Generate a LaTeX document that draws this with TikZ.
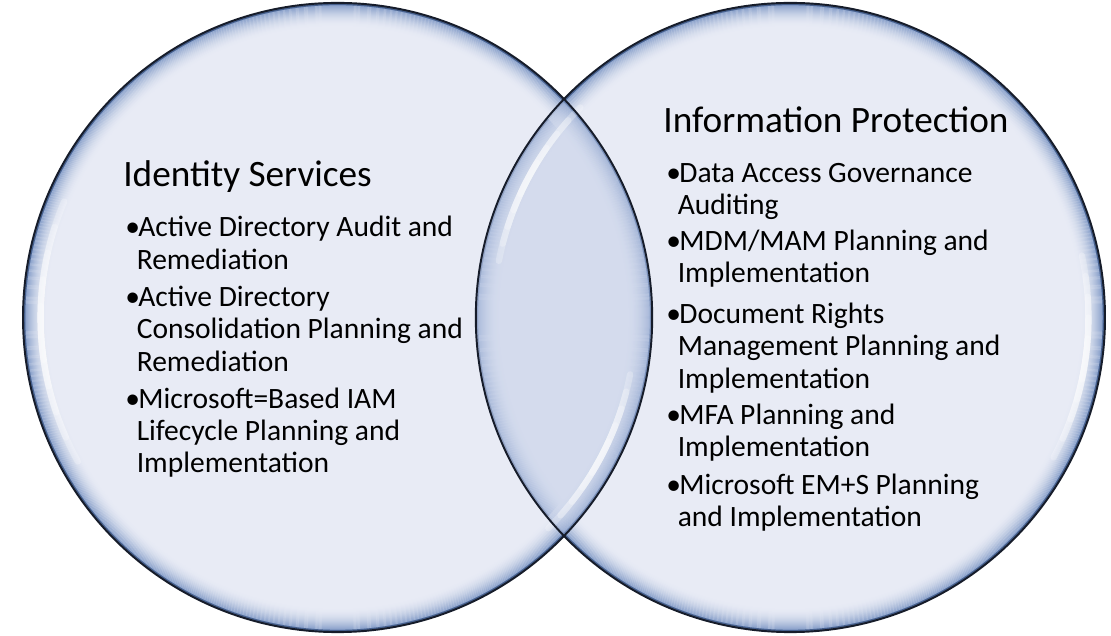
\documentclass[tikz,border=0pt]{standalone}
\usepackage{fontspec}
\setmainfont{Carlito}
\usetikzlibrary{calc}

\definecolor{bubpale}{RGB}{232,235,245}
\definecolor{bubrim}{RGB}{118,146,194}
\definecolor{bubdeep}{RGB}{70,96,142}
\definecolor{lenstint}{RGB}{110,140,200}
\definecolor{bubline}{RGB}{22,28,42}

\tikzset{
	headtxt/.style={anchor=base west, inner sep=0pt, font=\fontsize{21.2}{25}\selectfont},
	itemtxt/.style={anchor=base west, inner sep=0pt, align=left, font=\fontsize{16.8}{18.4}\selectfont},
	glintline/.style={white, line width=3.6pt, opacity=0.26, line cap=round}
}
\newcommand\bul{\makebox[7.4pt][l]{•}}
\newcommand\wrapind{\hspace*{6.5pt}}
% pale disc with a blue rim fading inwards: [options]{centre}
\newcommand\bubble[2][]{\fill[bubpale,#1] (#2) circle (\rr);
	\foreach \i in {0,...,24}{\pgfmathsetmacro\p{100*(1-\i/24)^2}\draw[bubrim!\p!bubpale, line width=0.62pt, #1] (#2) circle (\rr-\i-0.5);}
	\draw[bubdeep, line width=1.2pt, #1] (#2) circle (\rr-1.2);}
% white shine along a rim: centre, mid angle, half span, radius
\newcommand\glint[4]{\foreach \k in {1,...,5}{\draw[glintline] ($(#1)+({#4*cos(#2-#3*\k/5)},{#4*sin(#2-#3*\k/5)})$) arc (#2-#3*\k/5:#2+#3*\k/5:#4);}}

\begin{document}
\begin{tikzpicture}[x=0.02cm,y=0.02cm]
		%%%%% BUBBLES %%%%%
		\useasboundingbox[fill=white] (0,0) rectangle (1111,635);
		\coordinate (cL) at (337.6,317.5);
		\coordinate (cR) at (790.4,317.5);
		\def\rr{314.6}
		
		\bubble{cL}
		\bubble{cR}
		
		\begin{scope}
			\clip (cR) circle (\rr);
			\bubble[opacity=0.5]{cL}
			\fill[lenstint, opacity=0.16] (cL) circle (\rr);
		\end{scope}
		
		\glint{cL}{183}{26}{297}
		\glint{cL}{-28}{17}{298}
		\glint{cR}{152}{17}{297}
		\glint{cR}{-8}{20}{298}
		
		\draw[bubline, line width=1.1pt] (cL) circle (\rr);
		\draw[bubline, line width=1.1pt] (cR) circle (\rr);
		
		%%%%% LEFT TEXT %%%%%
		% base of a node = baseline of its last line
		\node[headtxt] (idhead) at (123,448) {Identity Services};
		\node[itemtxt] (id1) at (125,365.7) {\bul Active Directory Audit and\\\wrapind Remediation};
		\node[itemtxt] (id2) at (125,263.7) {\bul Active Directory\\\wrapind Consolidation Planning and\\\wrapind Remediation};
		\node[itemtxt] (id3) at (125,162.3) {\bul Microsoft=Based IAM\\\wrapind Lifecycle Planning and\\\wrapind Implementation};
		
		%%%%% RIGHT TEXT %%%%%
		\node[headtxt] (iphead) at (663,502) {Information Protection};
		\node[itemtxt] (ip1) at (666,420) {\bul Data Access Governance\\\wrapind Auditing};
		\node[itemtxt] (ip2) at (666,352.3) {\bul MDM/MAM Planning and\\\wrapind Implementation};
		\node[itemtxt] (ip3) at (666,246.7) {\bul Document Rights\\\wrapind Management Planning and\\\wrapind Implementation};
		\node[itemtxt] (ip4) at (666,178.3) {\bul MFA Planning and\\\wrapind Implementation};
		\node[itemtxt] (ip5) at (666,108.3) {\bul Microsoft EM+S Planning\\\wrapind and Implementation};
		
		%%%%% END %%%%%
	\end{tikzpicture}
\end{document}
